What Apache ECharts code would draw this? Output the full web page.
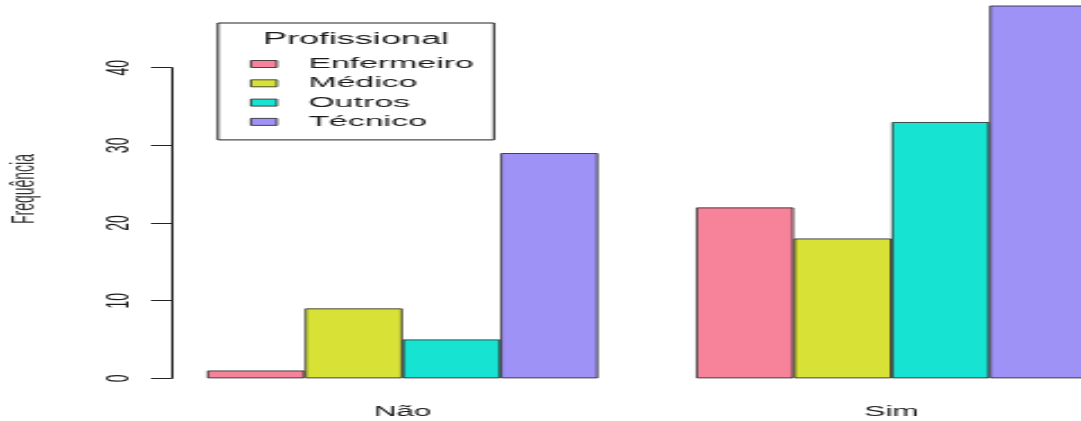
<!DOCTYPE html>
<html>
<head>
<meta charset="utf-8">
<script src="https://cdn.jsdelivr.net/npm/echarts@6/dist/echarts.min.js"></script>
<style>
  html, body { margin: 0; padding: 0; background: #fff; }
  #wrap { width: 1081px; height: 421px; overflow: hidden; position: relative; }
  #chart { width: 480px; height: 421px; transform-origin: 0 0; }
</style>
</head>
<body>
<div id="wrap"><div id="chart"></div></div>
<script>
// Data
const categories = ['Não', 'Sim'];
const profissionais = ['Enfermeiro', 'Médico', 'Outros', 'Técnico'];
const enfermeiro = [1, 22];
const medico = [9, 18];
const outros = [5, 33];
const tecnico = [29, 48];
const yTickLabels = ['0', '10', '20', '30', '40'];

const colors = ['#F6839A', '#D8E136', '#16E3D2', '#9F92F7'];
const seriesValues = [enfermeiro, medico, outros, tecnico];

// The plot is drawn on a narrow canvas and widened horizontally.
const SX = 1081 / 480;
const el = document.getElementById('chart');
el.style.transform = 'scaleX(' + SX + ')';
const u = x => x / SX;   // page x -> canvas x

const font = 'Liberation Sans, Arial, sans-serif';
const ink = '#1a1a1a';

const chart = echarts.init(el, null, { renderer: 'canvas' });
chart.setOption({
  animation: false,
  textStyle: { fontFamily: font, color: ink },
  title: {
    text: 'Profissional',
    left: u(356),
    top: 31.5,
    padding: 0,
    textAlign: 'center',
    textStyle: { fontFamily: font, fontSize: 16, fontWeight: 'normal', color: ink }
  },
  legend: {
    data: profissionais,
    orient: 'vertical',
    left: u(218),
    top: 23,
    padding: [33, 9, 10, u(250) - u(218)],
    itemWidth: u(276) - u(250),
    itemHeight: 7,
    itemGap: 3.3,
    borderColor: '#222',
    borderWidth: 1,
    borderRadius: 0,
    icon: 'rect',
    itemStyle: { borderWidth: 0.8 },
    textStyle: { fontFamily: font, fontSize: 15, lineHeight: 16, color: ink, padding: [0, 0, 0, 9] }
  },
  grid: [
    { left: u(158.1), top: 67.7, width: u(978), height: 310.6, outerBoundsMode: 'none', containLabel: false },
    { left: u(171.8), top: -13, width: 10, height: 404, outerBoundsMode: 'none', containLabel: false }
  ],
  xAxis: [
    {
      type: 'category', gridIndex: 0, data: categories,
      axisLine: { show: false }, axisTick: { show: false },
      axisLabel: { fontFamily: font, fontSize: 14, color: ink, margin: 26.5 }
    },
    { type: 'value', gridIndex: 1, show: false }
  ],
  yAxis: [
    {
      type: 'value', gridIndex: 0, min: 0, max: 40, interval: 10,
      offset: -(u(171.8) - u(158.1)),
      splitLine: { show: false },
      axisLine: { show: true, lineStyle: { color: '#222', width: 1 } },
      axisTick: { show: true, length: u(171.8) - u(151), lineStyle: { color: '#222', width: 1 } },
      axisLabel: {
        rotate: 90, margin: 16, fontFamily: font, fontSize: 14, color: ink,
        formatter: v => yTickLabels[Math.round(v / 10)]
      }
    },
    {
      type: 'value', gridIndex: 1, min: 0, max: 1,
      axisLine: { show: false }, axisTick: { show: false },
      axisLabel: { show: false }, splitLine: { show: false },
      name: 'Frequência', nameLocation: 'middle', nameGap: 58,
      nameTextStyle: { fontFamily: font, fontSize: 14, color: '#333' }
    }
  ],
  series: profissionais.map((name, i) => ({
    name: name,
    type: 'bar',
    xAxisIndex: 0,
    yAxisIndex: 0,
    data: seriesValues[i],
    barGap: '0%',
    barCategoryGap: '20%',
    clip: false,
    itemStyle: { color: colors[i], borderColor: '#222', borderWidth: 0.8 }
  }))
});
</script>
</body>
</html>
